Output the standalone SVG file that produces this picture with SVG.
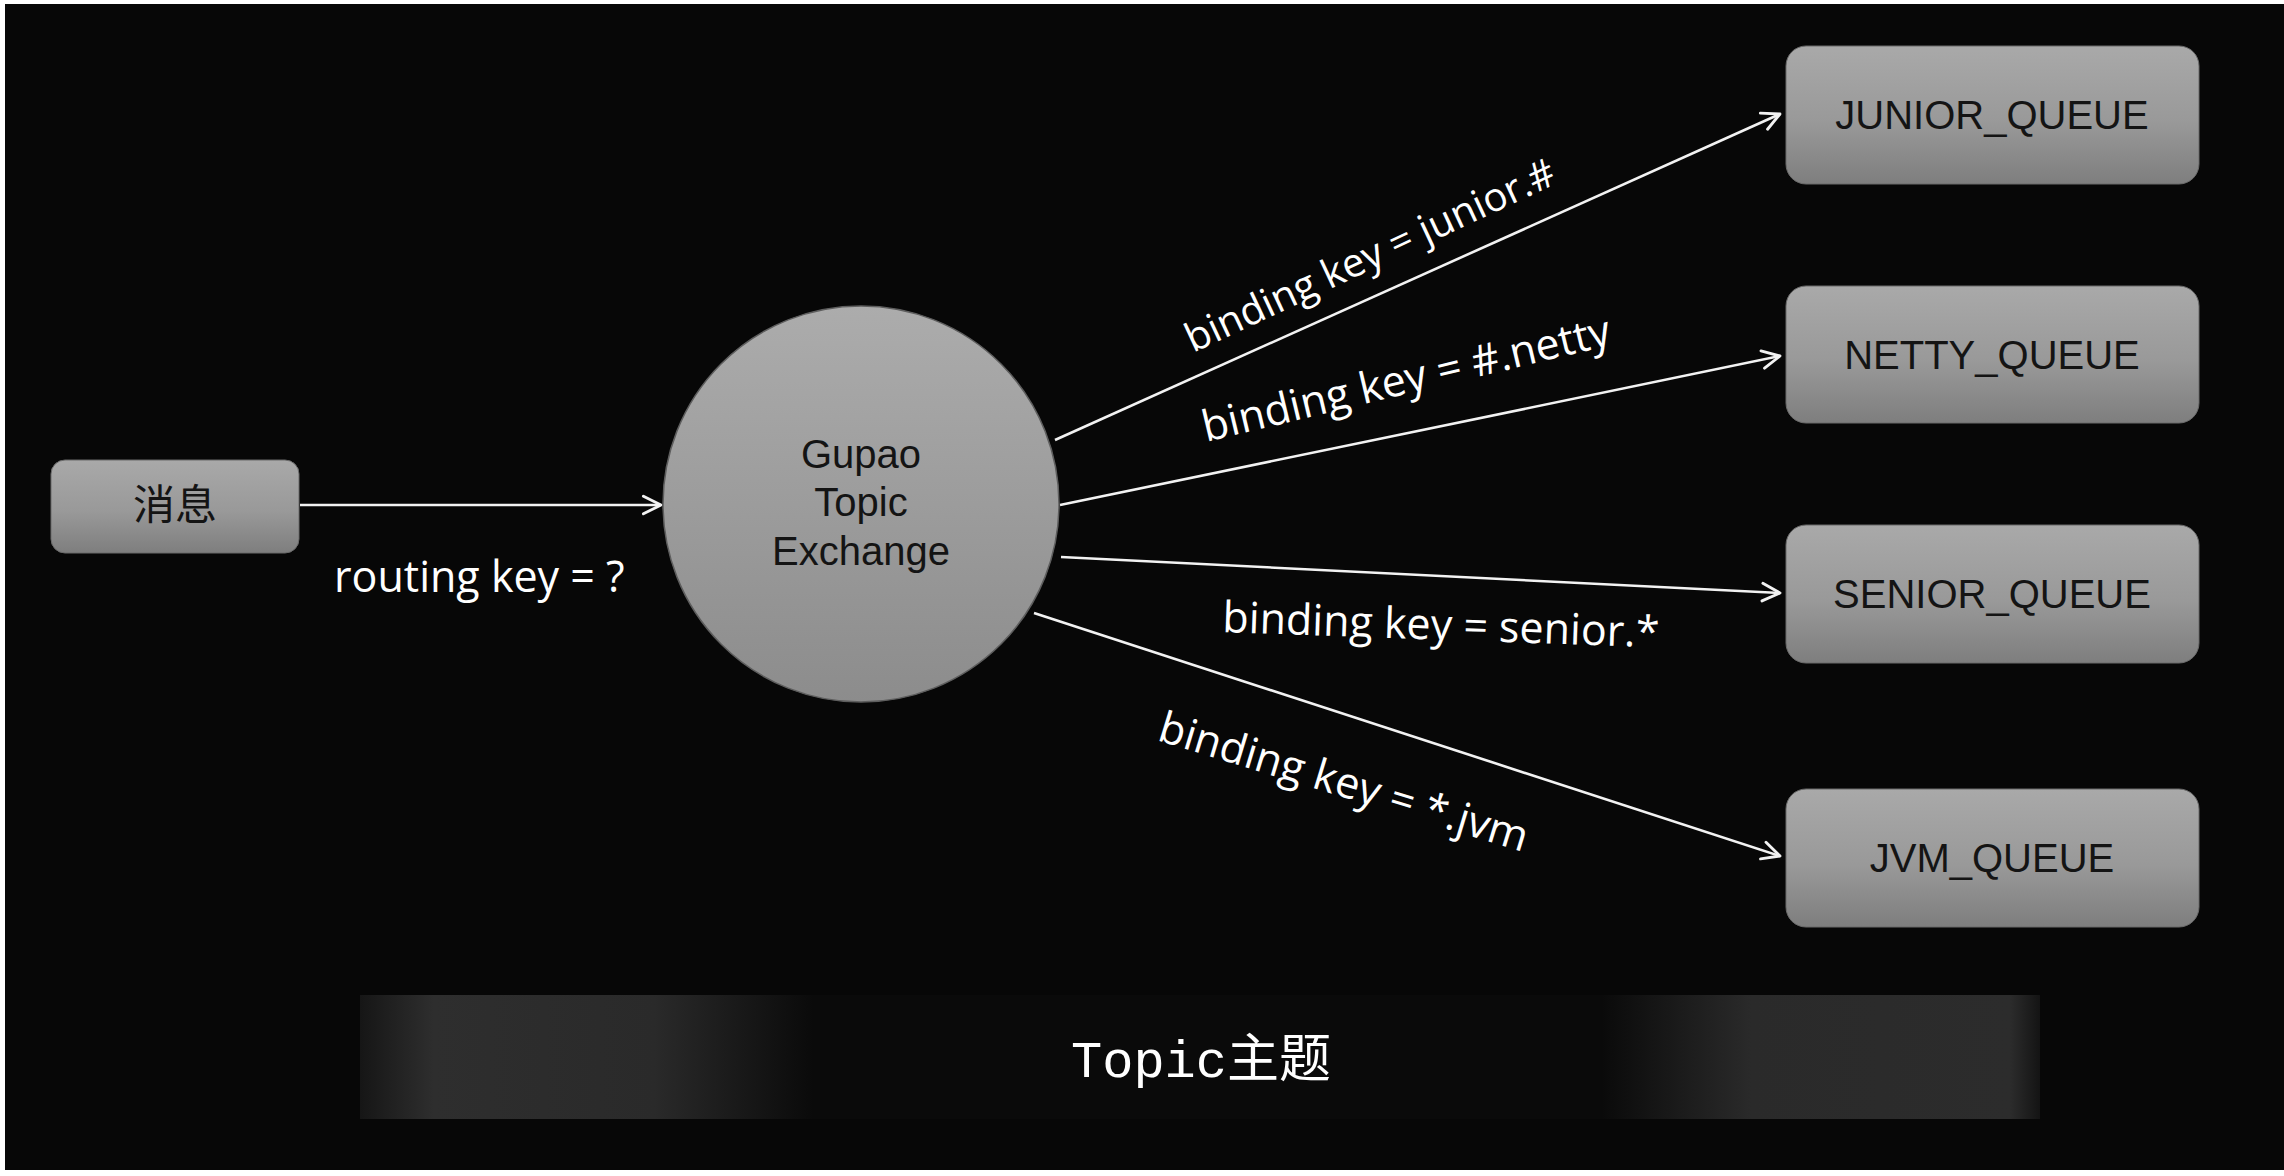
<svg xmlns="http://www.w3.org/2000/svg" width="2284" height="1176" viewBox="0 0 2284 1176">
  <defs>
    <linearGradient id="boxGrad" x1="0" y1="0" x2="0" y2="1">
      <stop offset="0" stop-color="#a9a9a9"/>
      <stop offset="0.55" stop-color="#999999"/>
      <stop offset="1" stop-color="#7e7e7e"/>
    </linearGradient>
    <linearGradient id="circGrad" x1="0" y1="0" x2="0" y2="1">
      <stop offset="0" stop-color="#acacac"/>
      <stop offset="1" stop-color="#8c8c8c"/>
    </linearGradient>
    <linearGradient id="bandGrad" gradientUnits="userSpaceOnUse" x1="360" y1="0" x2="2040" y2="0">
      <stop offset="0" stop-color="#161616"/>
      <stop offset="0.044" stop-color="#2e2e2e"/>
      <stop offset="0.175" stop-color="#2a2a2a"/>
      <stop offset="0.27" stop-color="#0a0a0a"/>
      <stop offset="0.739" stop-color="#0a0a0a"/>
      <stop offset="0.828" stop-color="#2a2a2a"/>
      <stop offset="0.982" stop-color="#2c2c2c"/>
      <stop offset="1" stop-color="#141414"/>
    </linearGradient>
    <marker id="arrow" viewBox="0 0 20 20" refX="18" refY="10" markerWidth="22" markerHeight="22" markerUnits="userSpaceOnUse" orient="auto">
      <path d="M2,2 L18,10 L2,18" fill="none" stroke="#f2f2f2" stroke-width="2.6" stroke-linecap="round" stroke-linejoin="round"/>
    </marker>
    <style>
      .box { fill: url(#boxGrad); stroke: #6a6a6a; stroke-width: 1; }
      .qtext { font-family: "Liberation Sans", Arial, sans-serif; font-size: 40px; fill: #141414; text-anchor: middle; }
      .ctext { font-family: "Liberation Sans", Arial, sans-serif; font-size: 40px; fill: #141414; text-anchor: middle; }
      .label { font-family: "Open Sans", "Noto Sans", sans-serif; font-size: 43px; fill: #ffffff; }
      .conn { stroke: #f2f2f2; stroke-width: 2.6; fill: none; marker-end: url(#arrow); }
    </style>
  </defs>

  <!-- frame and background -->
  <rect x="0" y="0" width="2284" height="1176" fill="#ffffff"/>
  <rect x="5" y="4" width="2279" height="1166" fill="#070707"/>

  <!-- bottom banner -->
  <g id="banner">
    <rect x="360" y="995" width="1680" height="124" fill="url(#bandGrad)"/>
    <text x="1201" y="1077" text-anchor="middle" font-family="'Liberation Mono', 'Noto Sans CJK SC', monospace" font-size="52" fill="#ffffff">Topic主题</text>
  </g>

  <!-- connectors -->
  <g id="connectors">
    <path class="conn" d="M300,505 L661,505"/>
    <path class="conn" d="M1055,440 L1780,114"/>
    <path class="conn" d="M1060,505 L1780,356"/>
    <path class="conn" d="M1061,557 L1780,593"/>
    <path class="conn" d="M1034,613 L1780,856"/>
  </g>

  <!-- connector labels -->
  <g id="labels">
    <text class="label" x="334" y="592">routing key = ?</text>
    <text class="label" style="font-size:40px" transform="translate(1193,353) rotate(-25)">binding key = junior.#</text>
    <text class="label" transform="translate(1206,442) rotate(-13.5)">binding key = #.netty</text>
    <text class="label" transform="translate(1222,632) rotate(2)">binding key = senior.*</text>
    <text class="label" transform="translate(1156,740) rotate(17)">binding key = *.jvm</text>
  </g>

  <!-- nodes -->
  <g id="node-message">
    <rect class="box" x="51" y="460" width="248" height="93" rx="14"/>
    <text x="175" y="520" text-anchor="middle" font-family="'Noto Sans CJK SC', sans-serif" font-size="42" fill="#141414">消息</text>
  </g>

  <g id="node-exchange">
    <circle cx="861" cy="504" r="198" fill="url(#circGrad)" stroke="#5e5e5e" stroke-width="1.5"/>
    <text class="ctext" x="861" y="468">Gupao</text>
    <text class="ctext" x="861" y="516">Topic</text>
    <text class="ctext" x="861" y="565">Exchange</text>
  </g>

  <g id="node-junior">
    <rect class="box" x="1786" y="46" width="413" height="138" rx="20"/>
    <text class="qtext" x="1992" y="129">JUNIOR_QUEUE</text>
  </g>
  <g id="node-netty">
    <rect class="box" x="1786" y="286" width="413" height="137" rx="20"/>
    <text class="qtext" x="1992" y="369">NETTY_QUEUE</text>
  </g>
  <g id="node-senior">
    <rect class="box" x="1786" y="525" width="413" height="138" rx="20"/>
    <text class="qtext" x="1992" y="608">SENIOR_QUEUE</text>
  </g>
  <g id="node-jvm">
    <rect class="box" x="1786" y="789" width="413" height="138" rx="20"/>
    <text class="qtext" x="1992" y="872">JVM_QUEUE</text>
  </g>
</svg>
